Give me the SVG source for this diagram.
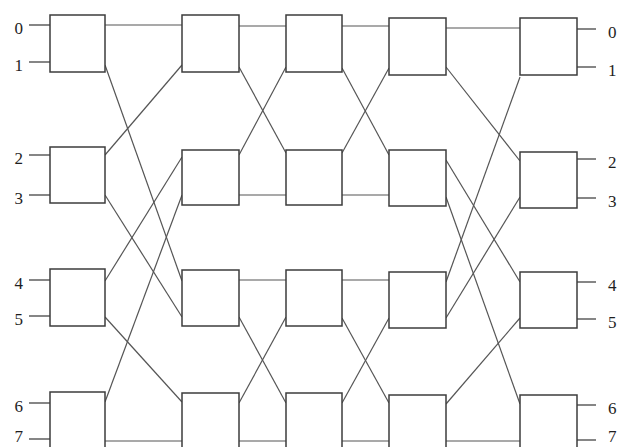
<svg xmlns="http://www.w3.org/2000/svg" width="618" height="447" viewBox="0 0 618 447">
<style>
.box{fill:#ffffff;stroke:#3c3c3c;stroke-width:1.5}
.wire{stroke:#555555;stroke-width:1.2;fill:none}
.stub{stroke:#444;stroke-width:1.3}
.lbl{font-family:"Liberation Serif","Times New Roman",serif;font-size:17px;fill:#1e1e1e}
</style>
<rect width="618" height="447" fill="#ffffff"/>
<g id="connectors">
<line class="wire" x1="105" y1="25" x2="182" y2="25"/>
<line class="wire" x1="105" y1="65" x2="182" y2="281"/>
<line class="wire" x1="105" y1="155" x2="182" y2="65"/>
<line class="wire" x1="105" y1="195" x2="182" y2="317"/>
<line class="wire" x1="105" y1="281" x2="182" y2="157"/>
<line class="wire" x1="105" y1="317" x2="182" y2="402"/>
<line class="wire" x1="105" y1="402" x2="182" y2="195"/>
<line class="wire" x1="105" y1="441" x2="182" y2="441"/>
<line class="wire" x1="239" y1="26" x2="286" y2="26"/>
<line class="wire" x1="239" y1="67" x2="286" y2="153"/>
<line class="wire" x1="239" y1="155" x2="286" y2="67"/>
<line class="wire" x1="239" y1="195" x2="286" y2="195"/>
<line class="wire" x1="239" y1="280" x2="286" y2="280"/>
<line class="wire" x1="239" y1="317" x2="286" y2="403"/>
<line class="wire" x1="239" y1="403" x2="286" y2="317"/>
<line class="wire" x1="239" y1="441" x2="286" y2="441"/>
<line class="wire" x1="342" y1="26" x2="389" y2="26"/>
<line class="wire" x1="342" y1="68" x2="389" y2="155"/>
<line class="wire" x1="342" y1="153" x2="389" y2="68"/>
<line class="wire" x1="342" y1="195" x2="389" y2="195"/>
<line class="wire" x1="342" y1="280" x2="389" y2="280"/>
<line class="wire" x1="342" y1="318" x2="389" y2="403"/>
<line class="wire" x1="342" y1="403" x2="389" y2="318"/>
<line class="wire" x1="342" y1="441" x2="389" y2="441"/>
<line class="wire" x1="446" y1="28" x2="520" y2="28"/>
<line class="wire" x1="446" y1="67" x2="520" y2="161"/>
<line class="wire" x1="446" y1="160" x2="520" y2="282"/>
<line class="wire" x1="446" y1="197" x2="520" y2="404"/>
<line class="wire" x1="446" y1="282" x2="520" y2="77"/>
<line class="wire" x1="446" y1="318" x2="520" y2="197"/>
<line class="wire" x1="446" y1="404" x2="520" y2="318"/>
<line class="wire" x1="446" y1="441" x2="520" y2="441"/>
</g>
<g id="inputs">
<line class="stub" x1="29" y1="25" x2="50" y2="25"/>
<line class="stub" x1="29" y1="62" x2="50" y2="62"/>
<line class="stub" x1="29" y1="155" x2="50" y2="155"/>
<line class="stub" x1="29" y1="195" x2="50" y2="195"/>
<line class="stub" x1="29" y1="280" x2="50" y2="280"/>
<line class="stub" x1="29" y1="316" x2="50" y2="316"/>
<line class="stub" x1="29" y1="403" x2="50" y2="403"/>
<line class="stub" x1="29" y1="439" x2="50" y2="439"/>
<text class="lbl" x="23" y="34" text-anchor="end">0</text>
<text class="lbl" x="23" y="71" text-anchor="end">1</text>
<text class="lbl" x="23" y="164" text-anchor="end">2</text>
<text class="lbl" x="23" y="204" text-anchor="end">3</text>
<text class="lbl" x="23" y="289" text-anchor="end">4</text>
<text class="lbl" x="23" y="325" text-anchor="end">5</text>
<text class="lbl" x="23" y="412" text-anchor="end">6</text>
<text class="lbl" x="23" y="442" text-anchor="end">7</text>
</g>
<g id="outputs">
<line class="stub" x1="577" y1="29" x2="596" y2="29"/>
<line class="stub" x1="577" y1="67" x2="596" y2="67"/>
<line class="stub" x1="577" y1="159" x2="596" y2="159"/>
<line class="stub" x1="577" y1="198" x2="596" y2="198"/>
<line class="stub" x1="577" y1="282" x2="596" y2="282"/>
<line class="stub" x1="577" y1="319" x2="596" y2="319"/>
<line class="stub" x1="577" y1="405" x2="596" y2="405"/>
<line class="stub" x1="577" y1="440" x2="596" y2="440"/>
<text class="lbl" x="608" y="38">0</text>
<text class="lbl" x="608" y="76">1</text>
<text class="lbl" x="608" y="168">2</text>
<text class="lbl" x="608" y="207">3</text>
<text class="lbl" x="608" y="291">4</text>
<text class="lbl" x="608" y="328">5</text>
<text class="lbl" x="608" y="414">6</text>
<text class="lbl" x="608" y="442">7</text>
</g>
<g id="s1-0"><rect class="box" x="50" y="15" width="55" height="57"/></g>
<g id="s1-1"><rect class="box" x="50" y="147" width="55" height="56"/></g>
<g id="s1-2"><rect class="box" x="50" y="269" width="55" height="57"/></g>
<g id="s1-3"><rect class="box" x="50" y="392" width="55" height="57"/></g>
<g id="s2-0"><rect class="box" x="182" y="15" width="57" height="57"/></g>
<g id="s2-1"><rect class="box" x="182" y="150" width="57" height="55"/></g>
<g id="s2-2"><rect class="box" x="182" y="270" width="57" height="56"/></g>
<g id="s2-3"><rect class="box" x="182" y="393" width="57" height="57"/></g>
<g id="s3-0"><rect class="box" x="286" y="15" width="56" height="57"/></g>
<g id="s3-1"><rect class="box" x="286" y="150" width="56" height="55"/></g>
<g id="s3-2"><rect class="box" x="286" y="270" width="56" height="56"/></g>
<g id="s3-3"><rect class="box" x="286" y="393" width="56" height="57"/></g>
<g id="s4-0"><rect class="box" x="389" y="18" width="57" height="57"/></g>
<g id="s4-1"><rect class="box" x="389" y="150" width="57" height="56"/></g>
<g id="s4-2"><rect class="box" x="389" y="272" width="57" height="56"/></g>
<g id="s4-3"><rect class="box" x="389" y="395" width="57" height="57"/></g>
<g id="s5-0"><rect class="box" x="520" y="18" width="57" height="57"/></g>
<g id="s5-1"><rect class="box" x="520" y="152" width="57" height="56"/></g>
<g id="s5-2"><rect class="box" x="520" y="272" width="57" height="56"/></g>
<g id="s5-3"><rect class="box" x="520" y="395" width="57" height="57"/></g>
</svg>
